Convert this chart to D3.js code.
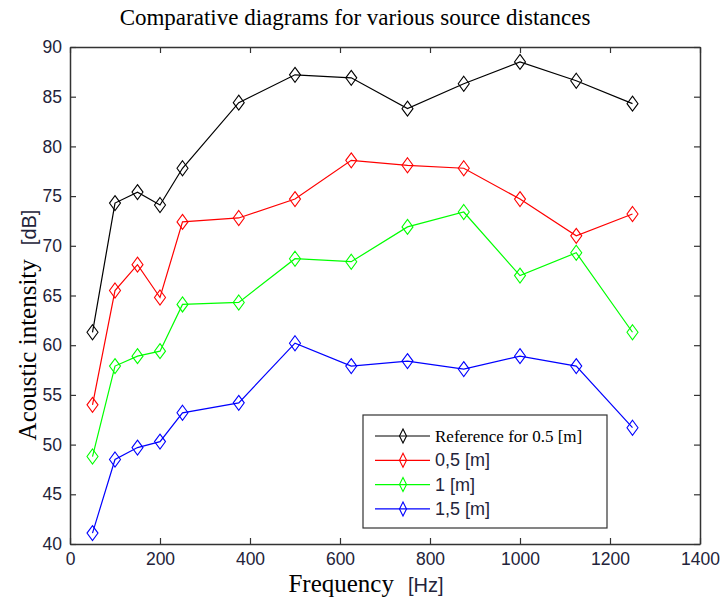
<!DOCTYPE html>
<html>
<head>
<meta charset="utf-8">
<script src="https://cdn.jsdelivr.net/npm/d3@7/dist/d3.min.js"></script>
<style>
  body { margin: 0; background: #fff; }
  .tick text { font-family: "Liberation Sans", Arial, sans-serif; font-size: 17.5px; fill: #23233a; }
  .serif { font-family: "Liberation Serif", "Times New Roman", serif; }
  .sans { font-family: "Liberation Sans", Arial, sans-serif; }
</style>
</head>
<body>
<div id="chartDiv"></div>
<script>
// frequencies [Hz]
const freqs = [50, 100, 150, 200, 250, 375, 500, 625, 750, 875, 1000, 1125, 1250];
// acoustic intensity [dB]
const ref05 = [61.3, 74.3, 75.4, 74.1, 77.8, 84.4, 87.2, 86.9, 83.8, 86.3, 88.5, 86.6, 84.3];
const d05   = [54.0, 65.5, 68.1, 64.8, 72.4, 72.8, 74.7, 78.6, 78.1, 77.8, 74.7, 71.0, 73.2];
const d1    = [48.8, 57.9, 58.9, 59.4, 64.1, 64.3, 68.7, 68.4, 71.9, 73.4, 67.0, 69.3, 61.3];
const d15   = [41.1, 48.5, 49.7, 50.3, 53.2, 54.2, 60.2, 57.9, 58.4, 57.6, 58.9, 57.9, 51.7];
const seriesNames = ["Reference for 0.5 [m]", "0,5 [m]", "1 [m]", "1,5 [m]"];
const seriesColors = ["#000000", "#ff0000", "#00ff00", "#0000ff"];
const xTicks = [0, 200, 400, 600, 800, 1000, 1200, 1400];
const yTicks = [40, 45, 50, 55, 60, 65, 70, 75, 80, 85, 90];

const series = [ref05, d05, d1, d15].map((vals, i) => ({
    name: seriesNames[i],
    color: seriesColors[i],
    points: vals.map((v, j) => ({f: freqs[j], v: v}))
}));

const width = 722, height = 602;
const margin = {top: 47, right: 22, bottom: 58, left: 70};

let svg = d3.select("#chartDiv").append("svg")
    .attr("width", width)
    .attr("height", height);

let x = d3.scaleLinear().domain([0, 1400]).range([margin.left, width - margin.right]);
let y = d3.scaleLinear().domain([40, 90]).range([height - margin.bottom, margin.top]);

// axes, matlab style: ticks inside on all four sides
svg.append("g")
    .attr("transform", `translate(0, ${y(40)})`)
    .call(d3.axisBottom(x).tickValues(xTicks).tickFormat(d3.format("d")).tickSizeInner(-6).tickSizeOuter(0).tickPadding(9));
svg.append("g")
    .attr("transform", `translate(0, ${y(90)})`)
    .call(d3.axisTop(x).tickValues(xTicks).tickSizeInner(-6).tickSizeOuter(0).tickFormat(""));
svg.append("g")
    .attr("transform", `translate(${x(0)}, 0)`)
    .call(d3.axisLeft(y).tickValues(yTicks).tickSizeInner(-6).tickSizeOuter(0).tickPadding(8));
svg.append("g")
    .attr("transform", `translate(${x(1400)}, 0)`)
    .call(d3.axisRight(y).tickValues(yTicks).tickSizeInner(-6).tickSizeOuter(0).tickFormat(""));

svg.selectAll(".domain").attr("stroke", "#333").attr("stroke-width", 1.5);
svg.selectAll(".tick line").attr("stroke", "#333").attr("stroke-width", 1.2);

// diamond marker path
function diamond(cx, cy, w, h) {
    return `M${cx},${cy - h / 2}L${cx + w / 2},${cy}L${cx},${cy + h / 2}L${cx - w / 2},${cy}Z`;
}

let line = d3.line().x(d => x(d.f)).y(d => y(d.v));

series.forEach(s => {
    svg.append("path")
        .attr("d", line(s.points))
        .attr("fill", "none")
        .attr("stroke", s.color)
        .attr("stroke-width", 1.2);
    svg.selectAll(null)
        .data(s.points)
        .enter()
        .append("path")
        .attr("d", d => diamond(x(d.f), y(d.v), 11, 15))
        .attr("fill", "none")
        .attr("stroke", s.color)
        .attr("stroke-width", 1.1);
});

// legend
const lg = {x: 363, y: 415, w: 244, h: 113};
svg.append("rect")
    .attr("x", lg.x).attr("y", lg.y)
    .attr("width", lg.w).attr("height", lg.h)
    .attr("fill", "#fff")
    .attr("stroke", "#333")
    .attr("stroke-width", 1.2);

series.forEach((s, i) => {
    let ly = lg.y + 21 + i * 24.3;
    svg.append("line")
        .attr("x1", lg.x + 12).attr("x2", lg.x + 67)
        .attr("y1", ly).attr("y2", ly)
        .attr("stroke", s.color).attr("stroke-width", 1.2);
    svg.append("path")
        .attr("d", diamond(lg.x + 40, ly, 7, 14))
        .attr("fill", "none")
        .attr("stroke", s.color).attr("stroke-width", 1.1);
    svg.append("text")
        .attr("class", i === 0 ? "serif" : "sans")
        .attr("x", lg.x + 72)
        .attr("y", ly + 6)
        .style("font-size", i === 0 ? "17px" : "18px")
        .style("fill", i === 0 ? "#000" : "#23233a")
        .text(s.name);
});

// title
svg.append("text")
    .attr("class", "serif")
    .attr("x", (x(0) + x(1400)) / 2 - 30)
    .attr("y", 25)
    .attr("text-anchor", "middle")
    .style("font-size", "23px")
    .text("Comparative diagrams for various source distances");

// x label
let xl = svg.append("text")
    .attr("x", 366)
    .attr("y", 592)
    .attr("text-anchor", "middle");
xl.append("tspan").attr("class", "serif").style("font-size", "25px").text("Frequency");
xl.append("tspan").attr("class", "sans").style("font-size", "20px").style("fill", "#23233a").attr("dx", 14).text("[Hz]");

// y label
let yl = svg.append("text")
    .attr("transform", `translate(36, 325) rotate(-90)`)
    .attr("text-anchor", "middle");
yl.append("tspan").attr("class", "serif").style("font-size", "25px").text("Acoustic intensity");
yl.append("tspan").attr("class", "sans").style("font-size", "20px").style("fill", "#23233a").attr("dx", 14).text("[dB]");
</script>
</body>
</html>
